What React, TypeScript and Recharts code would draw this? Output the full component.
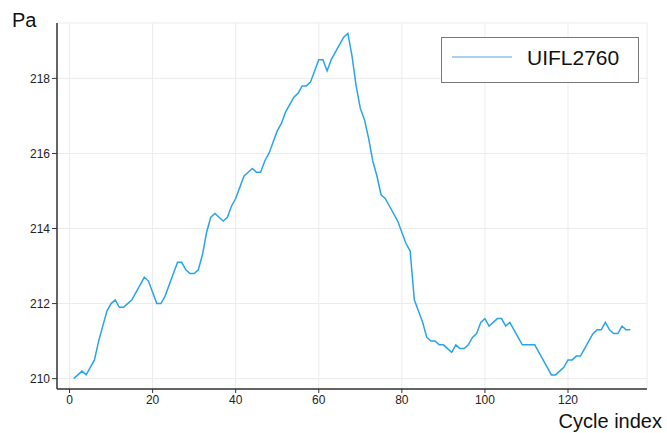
import React from "react";
import { LineChart, Line, XAxis, YAxis, CartesianGrid, Legend } from "recharts";

// Pa per cycle, cycles 1..135
const pressure = [
  210.0, 210.1, 210.2, 210.1, 210.3, 210.5, 211.0, 211.4, 211.8, 212.0,
  212.1, 211.9, 211.9, 212.0, 212.1, 212.3, 212.5, 212.7, 212.6, 212.3,
  212.0, 212.0, 212.2, 212.5, 212.8, 213.1, 213.1, 212.9, 212.8, 212.8,
  212.9, 213.3, 213.9, 214.3, 214.4, 214.3, 214.2, 214.3, 214.6, 214.8,
  215.1, 215.4, 215.5, 215.6, 215.5, 215.5, 215.8, 216.0, 216.3, 216.6,
  216.8, 217.1, 217.3, 217.5, 217.6, 217.8, 217.8, 217.9, 218.2, 218.5,
  218.5, 218.2, 218.5, 218.7, 218.9, 219.1, 219.2, 218.6, 217.8, 217.2,
  216.9, 216.4, 215.8, 215.4, 214.9, 214.8, 214.6, 214.4, 214.2, 213.9,
  213.6, 213.4, 212.1, 211.8, 211.5, 211.1, 211.0, 211.0, 210.9, 210.9,
  210.8, 210.7, 210.9, 210.8, 210.8, 210.9, 211.1, 211.2, 211.5, 211.6,
  211.4, 211.5, 211.6, 211.6, 211.4, 211.5, 211.3, 211.1, 210.9, 210.9,
  210.9, 210.9, 210.7, 210.5, 210.3, 210.1, 210.1, 210.2, 210.3, 210.5,
  210.5, 210.6, 210.6, 210.8, 211.0, 211.2, 211.3, 211.3, 211.5, 211.3,
  211.2, 211.2, 211.4, 211.3, 211.3,
];
const seriesName = "UIFL2760";
const xTicks = [0, 20, 40, 60, 80, 100, 120];
const yTicks = [210, 212, 214, 216, 218];

const data = pressure.map((pa, i) => ({ cycle: i + 1, pa }));

const FONT = "'Liberation Sans', Arial, sans-serif";
const LINE_COLOR = "#2ba3ea";

const LegendBox = (props: any) => {
  const name = props.payload?.[0]?.value ?? seriesName;
  return (
    <div
      style={{
        position: "relative",
        width: 196,
        height: 44,
        border: "1px solid #777",
        background: "#fff",
      }}
    >
      <svg width={60} height={4} style={{ position: "absolute", left: 10, top: 17 }}>
        <line x1={0} y1={2} x2={60} y2={2} stroke="#5aa0e0" strokeWidth={1.2} />
      </svg>
      <span
        style={{
          position: "absolute",
          left: 85,
          top: 9,
          fontFamily: FONT,
          fontSize: 21,
          lineHeight: "21px",
          color: "#111",
          whiteSpace: "nowrap",
        }}
      >
        {name}
      </span>
    </div>
  );
};

const PaLabel = ({ viewBox }: any) => (
  <text x={viewBox.x + 12} y={viewBox.y + 4} fontFamily={FONT} fontSize={20} fill="#111">
    Pa
  </text>
);

const CycleLabel = ({ viewBox }: any) => (
  <text
    x={viewBox.x + viewBox.width + 15}
    y={viewBox.y + 39}
    textAnchor="end"
    fontFamily={FONT}
    fontSize={20}
    fill="#111"
  >
    Cycle index
  </text>
);

const tickStyle = { fontFamily: FONT, fontSize: 12, fill: "#222" };

export default function App() {
  return (
    <div style={{ position: "absolute", left: 0, top: 0, background: "#fff" }}>
      <LineChart
        width={667}
        height={433}
        data={data}
        margin={{ top: 23, right: 20, bottom: 14, left: 0 }}
      >
        <CartesianGrid stroke="#ebebeb" strokeWidth={1} />
        <XAxis
          dataKey="cycle"
          type="number"
          domain={[-3.02, 139.02]}
          allowDataOverflow
          ticks={xTicks}
          height={30}
          tickSize={4}
          tickMargin={2}
          tick={tickStyle}
          axisLine={{ stroke: "#333", strokeWidth: 1.5 }}
          tickLine={{ stroke: "#333" }}
          label={<CycleLabel />}
        />
        <XAxis
          xAxisId="top"
          orientation="top"
          dataKey="cycle"
          type="number"
          domain={[-3.02, 139.02]}
          height={0}
          tick={false}
          tickLine={false}
          axisLine={{ stroke: "#888", strokeWidth: 1.5 }}
        />
        <YAxis
          type="number"
          domain={[209.724, 219.476]}
          allowDataOverflow
          ticks={yTicks}
          width={57}
          tickSize={5}
          tickMargin={2}
          tick={tickStyle}
          axisLine={{ stroke: "#333", strokeWidth: 1.5 }}
          tickLine={{ stroke: "#333" }}
          label={<PaLabel />}
        />
        <YAxis
          yAxisId="right"
          orientation="right"
          type="number"
          domain={[209.724, 219.476]}
          width={0}
          tick={false}
          tickLine={false}
          axisLine={{ stroke: "#888", strokeWidth: 1.5 }}
        />
        <Legend
          layout="horizontal"
          verticalAlign="middle"
          align="center"
          content={<LegendBox />}
          wrapperStyle={{ left: 441, top: 37, width: "auto", height: "auto" }}
        />
        <Line
          type="linear"
          dataKey="pa"
          name={seriesName}
          stroke={LINE_COLOR}
          strokeWidth={1.5}
          dot={false}
          isAnimationActive={false}
        />
      </LineChart>
    </div>
  );
}
